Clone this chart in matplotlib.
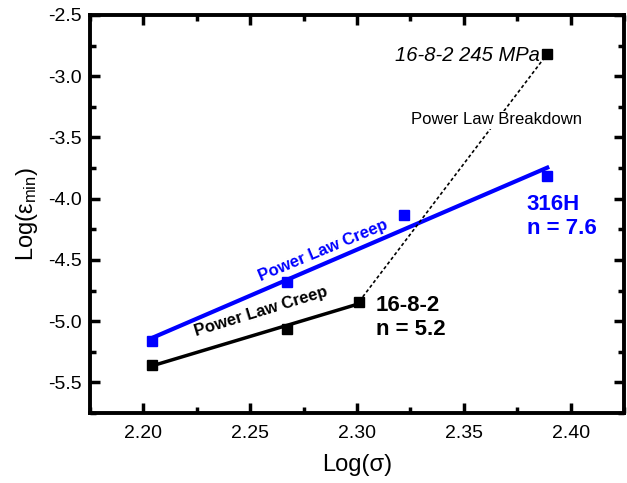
import numpy as np
import matplotlib
matplotlib.use("Agg")
from matplotlib import pyplot as plt
from matplotlib.ticker import MultipleLocator, FormatStrFormatter

plt.rcParams['font.family'] = ['Liberation Sans', 'DejaVu Sans']
plt.rcParams['mathtext.default'] = 'regular'
plt.rcParams['axes.unicode_minus'] = False

# log stress and log minimum creep rate for the two alloys
stress_1682 = [2.204, 2.267, 2.301, 2.389]
rate_1682 = [-5.356, -5.063, -4.84, -2.818]
stress_316h = [2.204, 2.267, 2.322, 2.389]
rate_316h = [-5.166, -4.684, -4.136, -3.813]

fig = plt.figure(figsize=(6.27, 4.83), dpi=100)
ax = fig.add_axes([0.1435, 0.145, 0.852, 0.824])

# power law fits (first three 16-8-2 points only)
p316 = np.polyfit(stress_316h, rate_316h, 1)
p1682 = np.polyfit(stress_1682[:3], rate_1682[:3], 1)
xb = np.array([stress_316h[0], stress_316h[-1]])
xk = np.array([stress_1682[0], stress_1682[2]])
ax.plot(xb, np.polyval(p316, xb), color='#0000ff', lw=3, zorder=2)
ax.plot(xk, np.polyval(p1682, xk), color='black', lw=2.5, zorder=2)

# breakdown segment
ax.plot(stress_1682[2:], rate_1682[2:], color='black', lw=1.2, ls=(0, (2, 1.5)), zorder=2)

ax.plot(stress_1682, rate_1682, ls='none', marker='s', ms=6.5, color='black', zorder=3)
ax.plot(stress_316h, rate_316h, ls='none', marker='s', ms=6.5, color='#0000ff', zorder=3)

ax.text(2.3855, -2.83, '16-8-2 245 MPa', style='italic', fontsize=14.5,
        ha='right', va='center')
ax.text(2.3653, -3.355, 'Power Law Breakdown', fontsize=12, ha='center', va='center',
        bbox=dict(facecolor='white', edgecolor='none', pad=1))
ax.text(2.3793, -3.96, '316H\nn = 7.6', color='#0000ff', fontsize=16,
        fontweight='bold', ha='left', va='top', linespacing=1.2)
ax.text(2.3087, -4.787, '16-8-2\nn = 5.2', color='black', fontsize=16,
        fontweight='bold', ha='left', va='top', linespacing=1.2)
ax.text(2.284, -4.42, 'Power Law Creep', color='#0000ff', fontsize=12,
        fontweight='bold', ha='center', va='center', rotation=22.5)
ax.text(2.255, -4.925, 'Power Law Creep', color='black', fontsize=12,
        fontweight='bold', ha='center', va='center', rotation=17)

ax.set_xlim(2.175, 2.425)
ax.set_ylim(-5.75, -2.5)
ax.xaxis.set_major_locator(MultipleLocator(0.05))
ax.xaxis.set_minor_locator(MultipleLocator(0.025))
ax.yaxis.set_major_locator(MultipleLocator(0.5))
ax.yaxis.set_minor_locator(MultipleLocator(0.25))
ax.xaxis.set_major_formatter(FormatStrFormatter('%.2f'))
ax.yaxis.set_major_formatter(FormatStrFormatter('%.1f'))

ax.tick_params(which='both', direction='in', top=True, right=True, width=2.5)
ax.tick_params(which='major', length=7, labelsize=14)
ax.tick_params(axis='x', which='major', pad=9)
ax.tick_params(axis='y', which='major', pad=6)
ax.tick_params(which='minor', length=4)
for s in ax.spines.values():
    s.set_linewidth(2.8)

ax.set_xlabel('Log(σ)', fontsize=17, labelpad=8)
ax.set_ylabel('Log(ε$_{min}$)', fontsize=17, labelpad=6)

fig.savefig('out.png', dpi=100)
